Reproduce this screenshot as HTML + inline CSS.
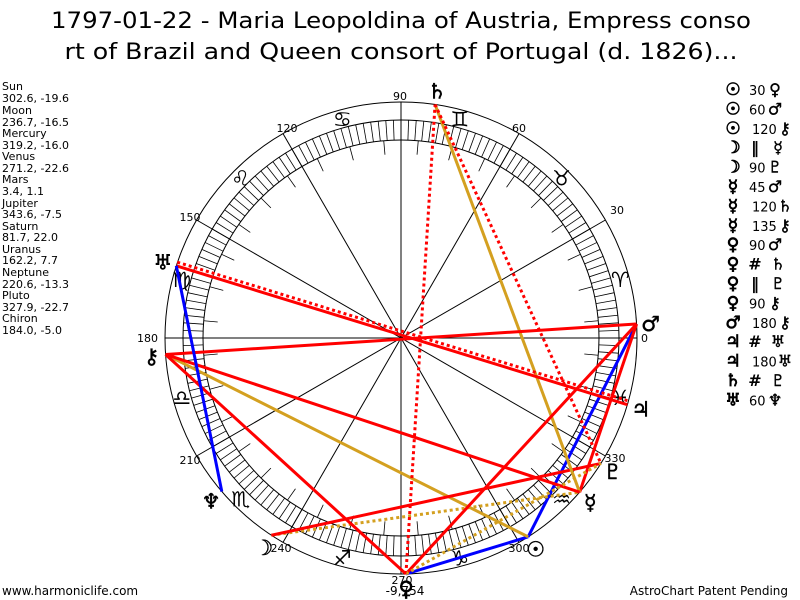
<!DOCTYPE html>
<html><head><meta charset="utf-8"><style>
html,body{margin:0;padding:0;background:#fff;width:800px;height:600px;overflow:hidden}
svg{display:block}
</style></head><body>
<svg id="s" width="800" height="600" xmlns="http://www.w3.org/2000/svg" font-family="DejaVu Sans, Liberation Sans, sans-serif">
<text x="401" y="28" font-size="22" text-anchor="middle" textLength="700" lengthAdjust="spacingAndGlyphs">1797-01-22 - Maria Leopoldina of Austria, Empress conso</text>
<text x="401" y="59" font-size="22" text-anchor="middle" textLength="673" lengthAdjust="spacingAndGlyphs">rt of Brazil and Queen consort of Portugal (d. 1826)...</text>
<g font-size="11" fill="#000">
<text x="2" y="90">Sun</text><text x="2" y="102">302.6, -19.6</text>
<text x="2" y="114">Moon</text><text x="2" y="126">236.7, -16.5</text>
<text x="2" y="137">Mercury</text><text x="2" y="149">319.2, -16.0</text>
<text x="2" y="160">Venus</text><text x="2" y="172">271.2, -22.6</text>
<text x="2" y="183">Mars</text><text x="2" y="195">3.4, 1.1</text>
<text x="2" y="207">Jupiter</text><text x="2" y="218">343.6, -7.5</text>
<text x="2" y="230">Saturn</text><text x="2" y="241">81.7, 22.0</text>
<text x="2" y="253">Uranus</text><text x="2" y="264">162.2, 7.7</text>
<text x="2" y="276">Neptune</text><text x="2" y="288">220.6, -13.3</text>
<text x="2" y="299">Pluto</text><text x="2" y="311">327.9, -22.7</text>
<text x="2" y="322">Chiron</text><text x="2" y="334">184.0, -5.0</text>
</g>
<text x="2" y="595" font-size="12">www.harmoniclife.com</text>
<text x="788" y="595" font-size="12" text-anchor="end">AstroChart Patent Pending</text>
<text x="405" y="595" font-size="12" text-anchor="middle">-9,754</text>
<g id="g"></g>
</svg>
<script>
var NS="http://www.w3.org/2000/svg",g=document.getElementById('g');
var cx=401,cy=338,R=236;
function el(t,a,txt){var e=document.createElementNS(NS,t);for(var k in a)e.setAttribute(k,a[k]);if(txt!=null)e.textContent=txt;g.appendChild(e);return e;}
function P(a,r){var t=a*Math.PI/180;return [cx+r*Math.cos(t),cy-r*Math.sin(t)];}
el('circle',{cx:cx,cy:cy,r:R,fill:'none',stroke:'#000','stroke-width':1});
el('circle',{cx:cx,cy:cy,r:218,fill:'none',stroke:'#000','stroke-width':1});
el('circle',{cx:cx,cy:cy,r:198,fill:'none',stroke:'#000','stroke-width':1});
for(var a=0;a<360;a+=2){var p=P(a,198),q=P(a,218);el('line',{x1:p[0],y1:p[1],x2:q[0],y2:q[1],stroke:'#000','stroke-width':0.8});}
for(var a=5;a<360;a+=10){var p=P(a,184),q=P(a,198);el('line',{x1:p[0],y1:p[1],x2:q[0],y2:q[1],stroke:'#000','stroke-width':0.8});}
for(var a=0;a<180;a+=30){var p=P(a,R),q=P(a+180,R);el('line',{x1:p[0],y1:p[1],x2:q[0],y2:q[1],stroke:'#000','stroke-width':1});}
var labs={0:[641,342,'start'],30:[617,214,'middle'],60:[519,132,'middle'],90:[400,100,'middle'],120:[287,132,'middle'],150:[190,221,'middle'],180:[158,342,'end'],210:[190,464,'middle'],240:[281,552,'middle'],270:[402,584,'middle'],300:[519,552,'middle'],330:[615,462,'middle']};
for(var k in labs){var L=labs[k];el('text',{x:L[0],y:L[1],'font-size':11,'text-anchor':L[2]},k);}
var signs=['\u2648','\u2649','\u264A','\u264B','\u264C','\u264D','\u264E','\u264F','\u2650','\u2651','\u2652','\u2653'];
for(var i=0;i<12;i++){var p=P(15+30*i,227);el('text',{x:p[0],y:p[1]+8,'font-size':21,'text-anchor':'middle'},signs[i]+'\uFE0E');}
var pl={Su:[302.6,'\u2609'],Mo:[236.7,'\u263D'],Me:[319.2,'\u263F'],Ve:[271.2,'\u2640'],Ma:[3.4,'\u2642'],Ju:[343.6,'\u2643'],Sa:[81.7,'\u2644'],Ur:[162.2,'\u2645'],Ne:[220.6,'\u2646'],Pl:[327.9,'\u2647'],Ch:[184.0,'\u26B7']};
for(var k in pl){var p=P(pl[k][0],250);el('text',{x:p[0],y:p[1]+8,'font-size':21,'text-anchor':'middle',stroke:'#000','stroke-width':0.5},pl[k][1]+'\uFE0E');}
var asp=[['Su','Ve','blue',0],['Su','Ma','blue',0],['Su','Ch','#d4a020',0],['Mo','Me','#d4a020',1],['Mo','Pl','red',0],['Me','Ma','red',0],['Me','Sa','#d4a020',0],['Me','Ch','red',0],['Ve','Ma','red',0],['Ve','Sa','red',1],['Ve','Pl','#d4a020',1],['Ve','Ch','red',0],['Ma','Ch','red',0],['Ju','Ur','red',1],['Ju','Ur','red',0],['Sa','Pl','red',1],['Ur','Ne','blue',0]];
asp.forEach(function(A){var p=P(pl[A[0]][0],R),q=P(pl[A[1]][0],R);var at={x1:p[0],y1:p[1],x2:q[0],y2:q[1],stroke:A[2],'stroke-width':3};if(A[3]){at['stroke-dasharray']='3,3';if(A[0]=='Ju'){at.y1-=4;at.y2-=4;}}el('line',at);});
var leg=[['\u2609','30','\u2640'],['\u2609','60','\u2642'],['\u2609','120','\u26B7'],['\u263D','\u2016','\u263F'],['\u263D','90','\u2647'],['\u263F','45','\u2642'],['\u263F','120','\u2644'],['\u263F','135','\u26B7'],['\u2640','90','\u2642'],['\u2640','#','\u2644'],['\u2640','\u2016','\u2647'],['\u2640','90','\u26B7'],['\u2642','180','\u26B7'],['\u2643','#','\u2645'],['\u2643','180','\u2645'],['\u2644','#','\u2647'],['\u2645','60','\u2646']];
leg.forEach(function(L,i){var y=95+i*19.4;el('text',{x:733,y:y,'font-size':17,'text-anchor':'middle',stroke:'#000','stroke-width':0.8},L[0]+'\uFE0E');var sym=(L[1]=='#'||L[1]=='\u2016');var x3;
if(sym){el('text',{x:755,y:y,'font-size':16,'font-weight':'bold','text-anchor':'middle'},L[1]);x3=778;}
else{el('text',{x:L[1].length==3?752:749,y:y,'font-size':13},L[1]);x3=L[1].length==3?785:775;}
el('text',{x:x3,y:y,'font-size':16,'text-anchor':'middle',stroke:'#000','stroke-width':0.4},L[2]+'\uFE0E');});
</script>
</body></html>
